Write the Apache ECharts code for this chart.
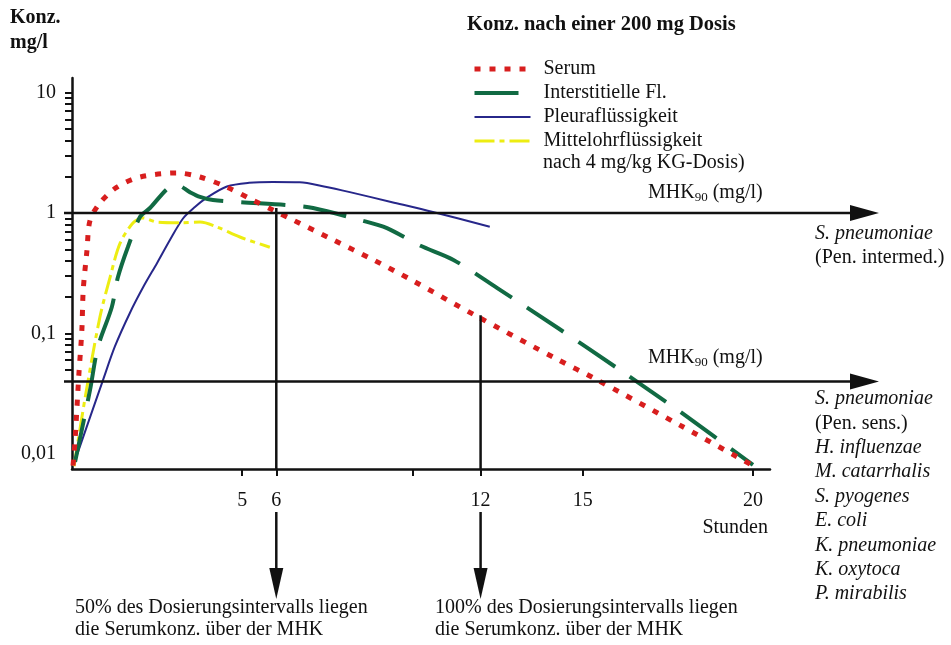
<!DOCTYPE html>
<html><head><meta charset="utf-8">
<script src="https://cdn.jsdelivr.net/npm/echarts@6/dist/echarts.min.js"></script>
<style>html,body{margin:0;padding:0;background:#fff}#c{width:951px;height:645px}</style>
</head><body><div id="c"></div>
<script>
// ---- data (hours, mg/l) ----
const serumT = [0.03,0.09,0.2,0.29,0.33,0.44,0.53,0.82,1.32,2.0,3.08,3.76,4.55,5.31,5.9,6.49,7.66,8.84,10.0,11.83,14.3,15.3,17.94,20];
const serumC = [0.008,0.013,0.045,0.107,0.23,0.49,0.87,1.21,1.64,1.99,2.15,1.99,1.64,1.28,1.06,0.875,0.6,0.41,0.275,0.142,0.06,0.043,0.0168,0.008];
const interT = [0.09,0.53,0.76,1.17,1.35,1.64,2.0,2.29,2.82,3.08,3.46,3.76,4.14,4.93,6.34,7.08,8.46,9.25,10.2,11.19,12.48,14.27,16.09,17.91,20];
const interC = [0.0086,0.034,0.077,0.166,0.294,0.52,0.93,1.10,1.61,1.71,1.49,1.36,1.28,1.23,1.16,1.10,0.875,0.75,0.54,0.41,0.239,0.111,0.0498,0.0219,0.0081];
const pleuraT = [0.03,0.47,0.91,1.26,1.70,2.10,2.50,2.88,3.26,3.61,3.96,4.55,5.2,5.9,6.69,7.4,8.16,9.4,10.6,12.27];
const pleuraC = [0.0079,0.018,0.041,0.078,0.148,0.245,0.385,0.60,0.90,1.12,1.34,1.66,1.78,1.81,1.80,1.66,1.49,1.23,1.02,0.77];
const mittelT = [0.06,0.23,0.44,0.82,1.12,1.41,1.79,2.08,2.5,3.17,3.76,4.26,4.93,5.81];
const mittelC = [0.0079,0.0158,0.036,0.137,0.294,0.56,0.826,0.91,0.84,0.83,0.84,0.765,0.632,0.52];
const seriesNames = ['Serum','Interstitielle Fl.','Pleuraflüssigkeit','Mittelohrflüssigkeit'];
const xTickValues = [5,6,10,12,15,20];
const xLabelValues = [5,6,12,15,20];
const yLabelValues = [0.01,0.1,1,10];
const yLabelTexts = ['0,01','0,1','1','10'];
const yMinorTicks = [0.05,0.06,0.07,0.08,0.09,0.1,0.2,0.3,0.4,0.5,0.6,0.7,0.8,0.9,1,2,3,4,5,6,7,8,9,10];
const mhkValues = [1, 0.04];
const vlineTimes = [6, 12];
const vlineTopConc = [1.1, 0.142];
const upperSpecies = [['S. pneumoniae', true], ['(Pen. intermed.)', false]];
const lowerSpecies = [['S. pneumoniae', true], ['(Pen. sens.)', false], ['H. influenzae', true], ['M. catarrhalis', true], ['S. pyogenes', true], ['E. coli', true], ['K. pneumoniae', true], ['K. oxytoca', true], ['P. mirabilis', true]];
const noteLeft = ['50% des Dosierungsintervalls liegen', 'die Serumkonz. über der MHK'];
const noteRight = ['100% des Dosierungsintervalls liegen', 'die Serumkonz. über der MHK'];

const FF = '"Liberation Serif","Times New Roman",serif';
const FS = 20;
const yMin = 0.0075, yMax = 13.2;
const L = v => Math.log10(v);
const pts = (ts, cs) => ts.map((t, i) => [t, L(cs[i])]);
const logLabel = {}; yLabelValues.forEach((v, i) => logLabel[L(v).toFixed(3)] = yLabelTexts[i]);

const chart = echarts.init(document.getElementById('c'));
const lineBase = {type: 'line', symbol: 'none', showSymbol: false, smooth: 0.3, silent: true, animation: false};
const option = {
  animation: false,
  backgroundColor: '#fff',
  textStyle: {fontFamily: FF},
  grid: {left: 72, top: 78, width: 698, height: 391, containLabel: false, outerBoundsMode: 'none'},
  xAxis: {
    type: 'value', min: 0, max: 20.5,
    axisLine: {show: true, onZero: false, lineStyle: {color: '#111', width: 2.5}},
    axisTick: {show: true, length: 7, customValues: xTickValues, lineStyle: {color: '#111', width: 2}},
    axisLabel: {customValues: xLabelValues, margin: 22, color: '#111', fontFamily: FF, fontSize: FS},
    splitLine: {show: false}
  },
  yAxis: {
    type: 'value', min: L(yMin), max: L(yMax),
    axisLine: {show: true, onZero: false, lineStyle: {color: '#111', width: 2.5}},
    axisTick: {show: true, length: 7, customValues: yMinorTicks.map(L), lineStyle: {color: '#111', width: 2}},
    axisLabel: {customValues: yLabelValues.map(L), margin: 16, color: '#111', fontFamily: FF, fontSize: FS,
      formatter: v => logLabel[Number(v).toFixed(3)] || ''},
    splitLine: {show: false}
  },
  legend: {
    data: seriesNames, orient: 'vertical', left: 467, top: 54,
    itemWidth: 56, itemHeight: 20, itemGap: 4, selectedMode: false,
    itemStyle: {opacity: 0},
    lineStyle: {width: 'inherit'},
    textStyle: {fontFamily: FF, fontSize: FS, color: '#111', lineHeight: 20, padding: [0, 0, 0, 8]}
  },
  series: [
    Object.assign({}, lineBase, {name: seriesNames[0], z: 5, data: pts(serumT, serumC), itemStyle: {color: '#d81e1e'},
      lineStyle: {color: '#d81e1e', width: 5, type: [6, 9], cap: 'butt'}}),
    Object.assign({}, lineBase, {name: seriesNames[1], z: 4, data: pts(interT, interC), itemStyle: {color: '#116a43'},
      lineStyle: {color: '#116a43', width: 4, type: [44, 18], cap: 'butt'}}),
    Object.assign({}, lineBase, {name: seriesNames[2], z: 3, data: pts(pleuraT, pleuraC), itemStyle: {color: '#27278a'},
      lineStyle: {color: '#27278a', width: 2}}),
    Object.assign({}, lineBase, {name: seriesNames[3], z: 3, data: pts(mittelT, mittelC), itemStyle: {color: '#eded12'},
      lineStyle: {color: '#eded12', width: 3, type: [20, 5, 5, 5], cap: 'butt'}}),
  ].concat(vlineTimes.map((t, i) => Object.assign({}, lineBase, {
      name: 'v' + i, smooth: false, z: 6, data: [[t, L(vlineTopConc[i])], [t, L(yMin)]],
      lineStyle: {color: '#111', width: 2.5}})))
};
chart.setOption(option);

// ---- annotations positioned via the chart's own scales ----
const toPx = (t, c) => chart.convertToPixel({gridIndex: 0}, [t, L(c)]);
const ctx = document.createElement('canvas').getContext('2d');
const measure = (txt, font) => { ctx.font = font; return ctx.measureText(txt).width; };
const g = [];
const txt = (x, y, text, opts) => g.push({type: 'text', x: x, y: y, z: 20, silent: true,
  style: Object.assign({text: text, fill: '#111', fontFamily: FF, fontSize: FS, textAlign: 'left', textVerticalAlign: 'middle'}, opts || {})});

txt(10, 18, 'Konz.', {fontWeight: 'bold'});
txt(10, 43, 'mg/l', {fontWeight: 'bold'});
txt(467, 25, 'Konz. nach einer 200 mg Dosis', {fontWeight: 'bold', fontSize: 20.5});
txt(543, 163, 'nach 4 mg/kg KG-Dosis)');
txt(768, 528, 'Stunden', {textAlign: 'right'});

const mhkLabelY = [193, 358];
mhkValues.forEach((v, i) => {
  const y = toPx(0, v)[1];
  g.push({type: 'line', z: 15, silent: true, shape: {x1: 64, y1: y, x2: 858, y2: y}, style: {stroke: '#111', lineWidth: 2.5}});
  g.push({type: 'polygon', z: 15, silent: true, shape: {points: [[850, y - 8], [879, y], [850, y + 8]]}, style: {fill: '#111'}});
  const x0 = 648, ly = mhkLabelY[i];
  const f1 = FS + 'px ' + FF, f2 = '13px ' + FF;
  const w1 = measure('MHK', f1), w2 = measure('90', f2);
  txt(x0, ly, 'MHK');
  txt(x0 + w1, ly + 5, '90', {fontSize: 13});
  txt(x0 + w1 + w2, ly, ' (mg/l)');
});

upperSpecies.forEach((s, i) => txt(815, 234 + i * 24, s[0], {fontStyle: s[1] ? 'italic' : 'normal'}));
lowerSpecies.forEach((s, i) => txt(815, 399 + i * 24.4, s[0], {fontStyle: s[1] ? 'italic' : 'normal'}));

vlineTimes.forEach(t => {
  const x = toPx(t, 1)[0];
  g.push({type: 'line', z: 15, silent: true, shape: {x1: x, y1: 512, x2: x, y2: 575}, style: {stroke: '#111', lineWidth: 2.5}});
  g.push({type: 'polygon', z: 15, silent: true, shape: {points: [[x - 7, 568], [x + 7, 568], [x, 599]]}, style: {fill: '#111'}});
});
noteLeft.forEach((s, i) => txt(75, 608 + i * 22, s));
noteRight.forEach((s, i) => txt(435, 608 + i * 22, s));

chart.setOption({graphic: {elements: g}});
</script>
</body></html>
